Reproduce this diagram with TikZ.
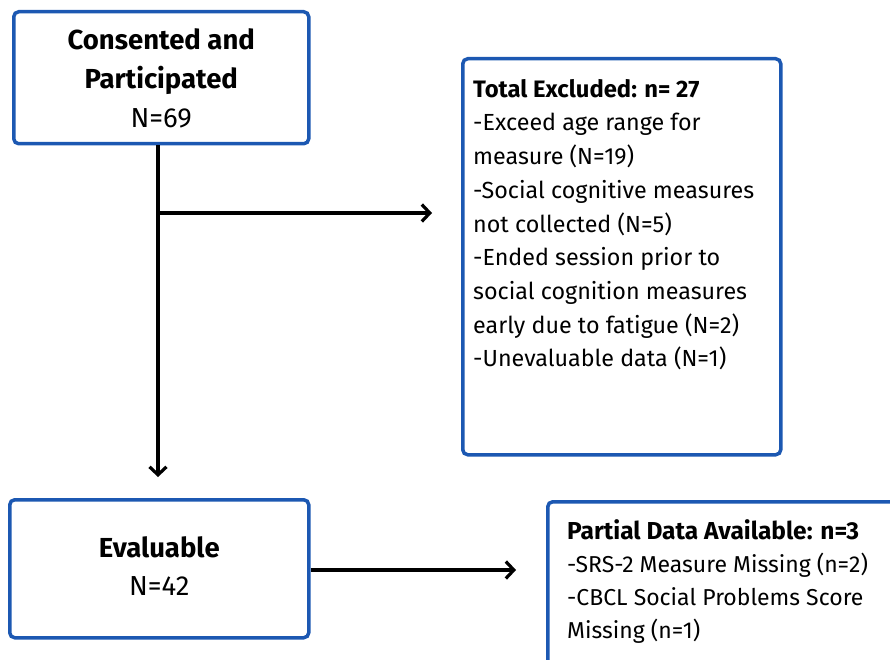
\documentclass[tikz,border=0pt]{standalone}
\usepackage{fontspec}
\setmainfont{Fira Sans}
\usetikzlibrary{arrows.meta}
\definecolor{boxblue}{RGB}{28,88,178}
\tikzset{
  flowbox/.style={draw=boxblue, line width=3.5pt, rounded corners=5pt, fill=white},
  link/.style={line width=3.5pt, -{Straight Barb[length=8pt,width=17pt,line width=3.2pt]}},
}
\begin{document}
\begin{tikzpicture}[x=1pt,y=-1pt]
\useasboundingbox (0,0) rectangle (890,660);
\clip (0,0) rectangle (890,660);

% main boxes
\node[flowbox, minimum width=295pt, minimum height=132pt, anchor=north west] (start) at (12,10) {};
\node[font=\fontsize{27.5}{39}\selectfont, align=center] (starttxt) at ([yshift=-1pt]start.center)
  {\textbf{Consented and}\\\textbf{Participated}\\N=69};

\node[flowbox, minimum width=318pt, minimum height=396pt, anchor=north west] (excl) at (461,57) {};
\node[font=\fontsize{23.3}{33.7}\selectfont, align=left, anchor=north west, inner sep=0pt] (excltxt) at (473,79)
  {{\fontsize{23.8}{33.7}\selectfont\textbf{Total Excluded: n= 27}}\\
   -Exceed age range for\\
   measure (N=19)\\
   -Social cognitive measures\\
   not collected (N=5)\\
   -Ended session prior to\\
   social cognition measures\\
   early due to fatigue (N=2)\\
   -Unevaluable data (N=1)};

\node[flowbox, minimum width=299pt, minimum height=138pt, anchor=north west] (eval) at (8,498) {};
\node[font=\fontsize{27.5}{38}\selectfont, align=center] (evaltxt) at ([yshift=3pt]eval.center)
  {\textbf{Evaluable}\\N=42};

\node[flowbox, minimum width=380pt, minimum height=200pt, anchor=north west] (part) at (546,500) {};
\node[font=\fontsize{23}{33}\selectfont, align=left, anchor=north west, inner sep=0pt] (parttxt) at (567,519)
  {{\fontsize{24.5}{33}\selectfont\textbf{Partial Data Available: n=3}}\\
   -SRS-2 Measure Missing (n=2)\\
   -CBCL Social Problems Score\\
   Missing (n=1)};

% connectors
\coordinate (vend) at (158,477);
\coordinate (hstart) at (158,213);
\coordinate (hend) at (432,213);
\coordinate (bend) at (516,570);
\draw[link] (start.south -| vend) -- (vend);
\draw[link] (hstart) -- (hend);
\draw[link] (eval.east |- bend) -- (bend);
\end{tikzpicture}
\end{document}
